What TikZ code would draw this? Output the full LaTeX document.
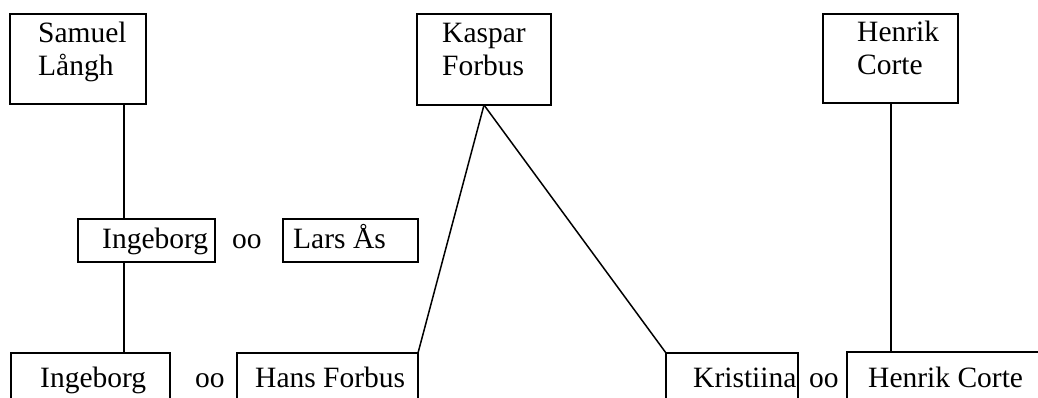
\documentclass[tikz,border=0pt]{standalone}
\usepackage{fontspec}
\setmainfont{Liberation Serif}
\begin{document}
\begin{tikzpicture}[x=1pt,y=-1pt,
  box/.style={draw, line width=1.7pt, inner sep=0pt, outer sep=0pt},
  txt/.style={inner sep=0pt, anchor=base west, font=\fontsize{29.5}{33}\selectfont},
  link/.style={line width=1.5pt}]
\useasboundingbox (0,0) rectangle (1038,398);
\clip (0,0) rectangle (1038,398);
% boxes
\node[box, minimum width=136, minimum height=90] (samuel) at (78,59) {};
\node[box, minimum width=134, minimum height=91] (kaspar) at (484,59.5) {};
\node[box, minimum width=135, minimum height=89] (henrik1) at (890.5,58.5) {};
\node[box, minimum width=137, minimum height=43] (ing1) at (146.5,240.5) {};
\node[box, minimum width=135, minimum height=43] (lars) at (350.5,240.5) {};
\node[box, minimum width=159, minimum height=50] (ing2) at (90.5,378) {};
\node[box, minimum width=181, minimum height=50] (hans) at (327.5,378) {};
\node[box, minimum width=132, minimum height=50] (kris) at (732,378) {};
\node[box, minimum width=198, minimum height=50] (henrik2) at (946,377) {};
% texts
\node[txt] (t1) at (38,43) {Samuel};
\node[txt] (t2) at (38,76) {Långh};
\node[txt] (t3) at (442,43) {Kaspar};
\node[txt] (t4) at (442,76) {Forbus};
\node[txt] (t5) at (857,42) {Henrik};
\node[txt] (t6) at (857,75) {Corte};
\node[txt] (t7) at (102,248) {Ingeborg};
\node[txt] (t8) at (232,248) {oo};
\node[txt] (t9) at (293,248) {Lars Ås};
\node[txt] (t10) at (40,387) {Ingeborg};
\node[txt] (t11) at (195,387) {oo};
\node[txt] (t12) at (255,387) {Hans Forbus};
\node[txt] (t13) at (693,387) {Kristiina};
\node[txt] (t14) at (809,387) {oo};
\node[txt] (t15) at (868,387) {Henrik Corte};
% connectors
\draw[link] ([xshift=46]samuel.south) -- ([xshift=-22.5]ing1.north);
\draw[link] ([xshift=-22.5]ing1.south) -- ([xshift=33.5]ing2.north);
\draw[link] (kaspar.south) -- (hans.north east);
\draw[link] (kaspar.south) -- (kris.north west);
\draw[link] ([xshift=0.5]henrik1.south) -- ([xshift=-55]henrik2.north);
\end{tikzpicture}
\end{document}
